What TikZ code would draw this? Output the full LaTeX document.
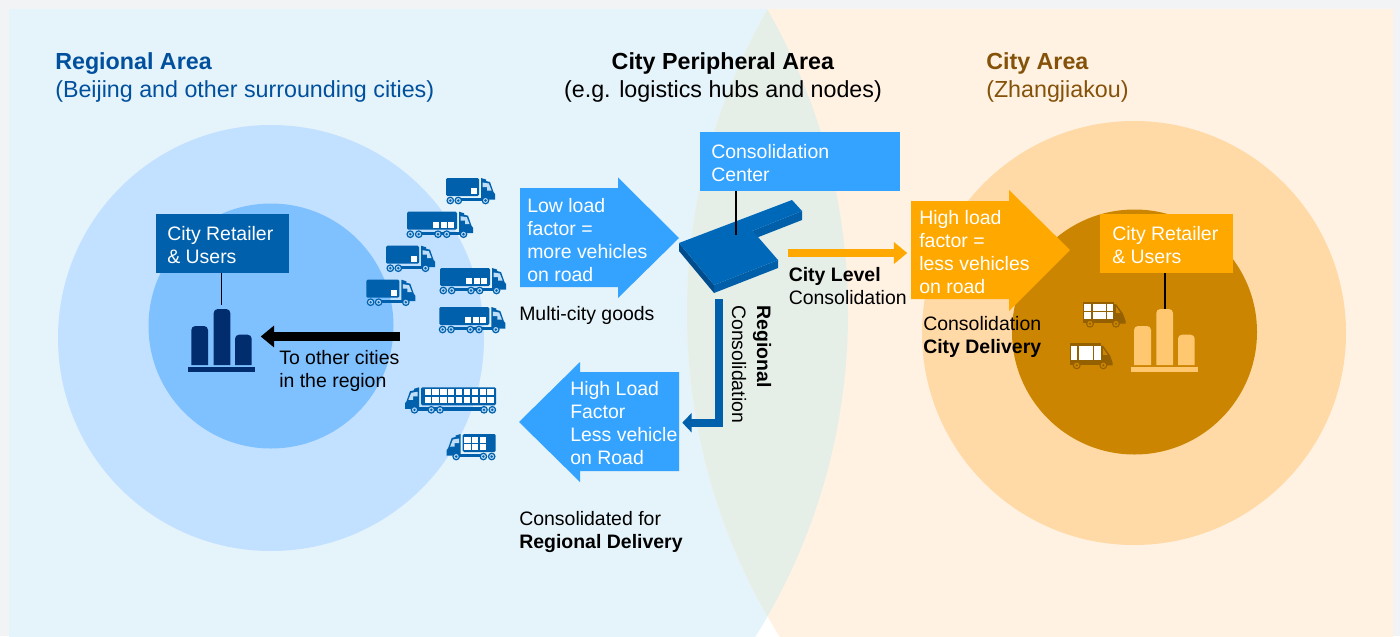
\documentclass[tikz,border=0pt]{standalone}
\usepackage{fontspec}
\setmainfont{Liberation Sans}
\usetikzlibrary{arrows.meta}
\definecolor{pagegray}{HTML}{F2F3F5}
\definecolor{bluezone}{HTML}{E5F3FA}
\definecolor{orangezone}{HTML}{FFF2E2}
\definecolor{lenszone}{HTML}{E6EEE8}
\definecolor{bluebig}{HTML}{C2E0FF}
\definecolor{blueinner}{HTML}{7FC1FF}
\definecolor{orangebig}{HTML}{FFD9A6}
\definecolor{orangeinner}{HTML}{CC8500}
\definecolor{skyblue}{HTML}{33A3FF}
\definecolor{deepblue}{HTML}{0060AC}
\definecolor{roofblue}{HTML}{0068B8}
\definecolor{sideblue}{HTML}{004C8C}
\definecolor{frontblue}{HTML}{005FA8}
\definecolor{navy}{HTML}{012D6F}
\definecolor{amber}{HTML}{FFA800}
\definecolor{paleamber}{HTML}{FFC870}
\definecolor{vanbrown}{HTML}{946000}
\definecolor{windowblue}{HTML}{BFDDF6}
\definecolor{wheelring}{HTML}{A9D2F2}
\definecolor{titleblue}{HTML}{00509E}
\definecolor{titlebrown}{HTML}{85520A}
\tikzset{
  body/.style={font=\fontsize{14.6}{17.25}\selectfont,align=left,inner sep=0pt,anchor=base west},
  whitebody/.style={body,text=white},
  titletext/.style={font=\fontsize{17.45}{21}\selectfont,align=left,inner sep=0pt,anchor=base west},
  stem/.style={draw=black,line width=0.95pt},
}
% truck with cab on the right, origin at top-left of the cargo box, length #1
\newcommand{\truckbody}[2]{%
  \fill[deepblue,rounded corners=1pt] (0,0) rectangle (#1,18);
  \fill[deepblue] (#1+2,0) -- (#1+7,1.5) -- (#1+7,3) -- (#1+11,4) -- (#1+14.5,14) -- (#1+16,16) -- (#1+16,21.5) -- (#1+2,21.5) -- cycle;
  \fill[windowblue] (#1+3.5,4.5) -- (#1+9.8,5.5) -- (#1+12.6,12.5) -- (#1+8,12.5) -- (#1+8,9) -- (#1+3.5,9) -- cycle;
  \fill[deepblue] (10,19.8) rectangle (#1+8,23.2);
  \foreach \wx in {#2,#1+6.5}{
    \fill[deepblue] (\wx,22.5) circle (3.9);
    \fill[wheelring] (\wx,22.5) circle (2.5);
    \fill[deepblue] (\wx,22.5) circle (1.3);
  }%
}
\newcommand{\shorttruck}[2]{\begin{scope}[shift={(#1,#2)}]
  \truckbody{33}{4.3,12.3}
  \fill[white] (25,10) rectangle (31,16);
\end{scope}}
\newcommand{\longtruck}[2]{\begin{scope}[shift={(#1,#2)}]
  \truckbody{50}{3.3,11.7,31,39.7}
  \foreach \sx in {26,33.5,41}{\fill[white] (\sx,10.3) rectangle (\sx+6,16.3);}
\end{scope}}
\newcommand{\van}[4]{\begin{scope}[shift={(#1,#2)}]
  \fill[vanbrown] (0,0) rectangle (31,21.5);
  \fill[vanbrown] (31,2.3) -- (33,2.3) -- (40,12) -- (42.5,19) -- (42.5,22) -- (31,22) -- cycle;
  \fill[orangeinner] (33,5) -- (37.5,11.5) -- (33,11.5) -- cycle;
  #3
  \foreach \wx in {#4}{
    \fill[vanbrown] (\wx,22) circle (4);
    \fill[orangeinner] (\wx,22) circle (2.7);
    \fill[vanbrown] (\wx,22) circle (1.2);
  }
\end{scope}}
\newcommand{\chartcolumn}[4]{\fill[#4] (#1,365) [rounded corners=3pt] -- (#1,#3) -- (#2,#3) [sharp corners] -- (#2,365) -- cycle;}
\begin{document}
\begin{tikzpicture}[x=0.75pt,y=-0.75pt]
\useasboundingbox (0,0) rectangle (1400,636);
\fill[pagegray] (0,0) rectangle (1400,636);
\fill[white] (9,9) rectangle (1393,636);
% zones
\begin{scope}
  \clip (9,9) rectangle (1393,636);
  \fill[bluezone] (237,313) circle (611);
  \fill[orangezone] (1298,313) circle (611);
  \begin{scope}
    \clip (237,313) circle (611);
    \fill[lenszone] (1298,313) circle (611);
  \end{scope}
\end{scope}
% discs
\fill[bluebig] (271,338) circle (213);
\fill[blueinner] (271,326) circle (122.5);
\fill[orangebig] (1134,333) circle (212);
\fill[orangeinner] (1134.5,332) circle (122.5);
% titles
\node[titletext,text=titleblue] (regtitle) at (55,69) {\textbf{Regional Area}};
\node[titletext,text=titleblue] (regsub) at (55,97) {(Beijing and other surrounding cities)};
\node[titletext,anchor=base] (pertitle) at (723,69) {\textbf{City Peripheral Area}};
\node[titletext,anchor=base] (persub) at (723,97) {(e.g. logistics hubs and nodes)};
\node[titletext,text=titlebrown] (citytitle) at (986,69) {\textbf{City Area}};
\node[titletext,text=titlebrown] (citysub) at (986,97) {(Zhangjiakou)};
% left chart and box
\chartcolumn{191.3}{208}{326}{navy}
\chartcolumn{213.7}{230.3}{309}{navy}
\chartcolumn{235}{251.7}{334.7}{navy}
\fill[navy] (188,366.7) rectangle (255,372);
\fill[deepblue] (156,214) rectangle (289,273);
\node[whitebody] (lefttext) at (167,263) {City Retailer\\\& Users};
\coordinate (leftstemtop) at (221.5,273);
\coordinate (leftstembot) at (221.5,305);
\draw[stem] (leftstemtop) -- (leftstembot);
% right chart and box
\chartcolumn{1134}{1151}{326}{paleamber}
\chartcolumn{1156.3}{1173}{309}{paleamber}
\chartcolumn{1178}{1194.7}{334.7}{paleamber}
\fill[paleamber] (1131,367) rectangle (1198,372);
\fill[amber] (1100,214) rectangle (1233,273);
\node[whitebody] (righttext) at (1112,263) {City Retailer\\\& Users};
\coordinate (rightstemtop) at (1165,273);
\coordinate (rightstembot) at (1165,309);
\draw[stem] (rightstemtop) -- (rightstembot);
% black arrow
\coordinate (blackstart) at (400,336.5);
\coordinate (blackend) at (260.7,336.5);
\draw[line width=6.2pt,-{Triangle[length=10pt,width=15.75pt]}] (blackstart) -- (blackend);
\node[body] (otheritems) at (279,387) {To other cities\\in the region};
% trucks
\shorttruck{446}{178}
\longtruck{407}{211.7}
\shorttruck{386}{245.7}
\longtruck{440}{268}
\shorttruck{366.3}{279.7}
\longtruck{439.3}{307}
\begin{scope}[shift={(496,387.3)},xscale=-1]
  \truckbody{75}{3.7,12,56,64.7}
  \foreach \sx in {0,...,8}{
    \fill[white] (2.4+\sx*7.85,1.9) rectangle (2.4+\sx*7.85+6.2,8.1);
    \fill[white] (2.4+\sx*7.85,9.9) rectangle (2.4+\sx*7.85+6.2,16.1);
  }
\end{scope}
\begin{scope}[shift={(495.7,434)},xscale=-1]
  \truckbody{33}{4,12.3}
  \foreach \sx in {0,1,2}{
    \fill[white] (9.9+\sx*7.6,3) rectangle (9.9+\sx*7.6+6.3,9);
    \fill[white] (9.9+\sx*7.6,10.4) rectangle (9.9+\sx*7.6+6.3,16.4);
  }
\end{scope}
% vans
\van{1083}{301.7}{\fill[white] (1,2.3) rectangle (8.3,9);\fill[white] (9.7,2.3) rectangle (23,9);\fill[white] (24.3,2.3) rectangle (30.3,9);\fill[white] (1,10.3) rectangle (8.3,17.7);\fill[white] (9.7,10.3) rectangle (23,17.7);\fill[white] (24.3,10.3) rectangle (30.3,17.7);}{7,33}
\van{1070}{343.3}{\fill[white] (1,2.3) rectangle (7.3,16.3);\fill[white] (8.7,2.3) rectangle (22.7,16.3);\fill[white] (24,2.3) rectangle (31,16.3);}{6.7,33.3}
% block arrows
\fill[skyblue] (520,188) -- (618,188) -- (618,177.5) -- (679,238) -- (618,298) -- (618,287) -- (520,287) -- cycle;
\node[whitebody] (lowload) at (527,281) {Low load\\factor =\\more vehicles\\on road};
\fill[skyblue] (679,372) -- (580,372) -- (580,362) -- (519,422) -- (580,482) -- (580,471) -- (679,471) -- cycle;
\node[whitebody] (highloadb) at (570,464) {High Load\\Factor\\Less vehicle\\on Road};
\fill[amber] (911,201) -- (1009,201) -- (1009,190) -- (1070,250) -- (1009,311) -- (1009,299) -- (911,299) -- cycle;
\node[whitebody] (highloado) at (919,293.5) {High load\\factor =\\less vehicles\\on road};
% consolidation centre
\fill[skyblue] (700,132) rectangle (900,191);
\node[whitebody] (cctext) at (711,181) {Consolidation\\Center};
\coordinate (ccstem) at (736,191);
\coordinate (bld) at (736,235);
% building
\fill[frontblue] (714,285) -- (778,260) -- (778,268) -- (714,293) -- cycle;
\fill[sideblue] (679,243) -- (714,285) -- (714,293) -- (679,251) -- cycle;
\fill[frontblue] (752,231) -- (802,211) -- (802,220) -- (756,238) -- cycle;
\fill[roofblue] (679,243) -- (792,200) -- (802,211) -- (752,231) -- (758,237) -- (778,260) -- (714,285) -- cycle;
\draw[stem] (ccstem) -- (bld);
% connectors out of the building
\coordinate (orstart) at (788,253);
\coordinate (orend) at (907.3,253);
\draw[amber,line width=5.5pt,-{Triangle[length=10pt,width=15.75pt]}] (orstart) -- (orend);
\coordinate (regstart) at (718.7,299);
\coordinate (regbend) at (718.7,422.7);
\coordinate (regend) at (682.3,422.7);
\draw[deepblue,line width=6pt,-{Triangle[length=7pt,width=14.25pt]}] (regstart) -- (regbend) -- (regend);
% labels
\node[body] (citylevel) at (788.5,304) {\textbf{City Level}\\Consolidation};
\node[body,rotate=-90,anchor=west] (regcons) at (762,305) {\textbf{Regional}};
\node[body,rotate=-90,anchor=west] (regcons2) at (739,305) {Consolidation};
\node[body] (multicity) at (519,320) {Multi-city goods};
\node[body] (citydel) at (923,353.5) {Consolidation\\\textbf{City Delivery}};
\node[body] (regdel) at (519,548) {Consolidated for\\\textbf{Regional Delivery}};
\end{tikzpicture}
\end{document}
